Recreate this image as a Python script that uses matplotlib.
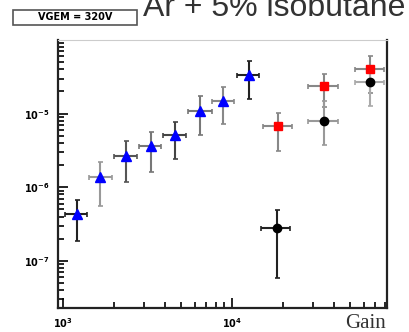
import matplotlib.pyplot as plt
import numpy as np
from matplotlib.patches import Rectangle
from matplotlib.ticker import LogLocator, NullFormatter, FixedLocator

# data
blue_gain = [1210, 1656, 2360, 3318, 4603, 6472, 8850, 12620]
blue_glo = [1028, 1426, 2004, 2818, 3908, 5495, 7621, 10716]
blue_ghi = [1387, 1950, 2741, 3802, 5346, 7621, 10280, 14454]
blue_val = [4.3e-7, 1.36e-6, 2.7e-6, 3.6e-6, 5.2e-6, 1.1e-5, 1.5e-5, 3.37e-5]
blue_hi = [6.7e-7, 2.18e-6, 4.3e-6, 5.7e-6, 7.8e-6, 1.75e-5, 2.3e-5, 5.2e-5]
blue_lo = [1.86e-7, 5.5e-7, 1.17e-6, 1.6e-6, 2.4e-6, 5.2e-6, 7.3e-6, 1.6e-5]

red_gain = [18700, 35000, 65600]
red_glo = [15240, 28200, 53500]
red_ghi = [22650, 42400, 79300]
red_val = [6.9e-6, 2.39e-5, 4.06e-5]
red_hi = [1.03e-5, 3.47e-5, 6.1e-5]
red_lo = [3.16e-6, 1.24e-5, 1.92e-5]

black_gain = [18450, 35000, 65600]
black_glo = [14860, 28200, 53500]
black_ghi = [22030, 42400, 79300]
black_val = [2.8e-7, 8.0e-6, 2.7e-5]
black_hi = [4.9e-7, 1.5e-5, 4.3e-5]
black_lo = [5.9e-8, 3.7e-6, 1.28e-5]

blue_ecol = ['#222222', '#999999', '#555555', '#777777', '#444444', '#777777', '#888888', '#222222']
red_ecol = ['#888888', '#888888', '#888888']
black_ecol = ['#222222', '#999999', '#aaaaaa']

fig = plt.figure(figsize=(4.1, 3.32), dpi=100)
ax = fig.add_axes([58/410, 1-308/332, 329/410, 268/332])
ax.set_xscale('log')
ax.set_yscale('log')
ax.set_xlim(933, 82600)
ax.set_ylim(2.3e-8, 1.0e-4)


def draw(g, glo, ghi, v, lo, hi, ecol, marker, color, ms):
    for i in range(len(g)):
        ax.errorbar([g[i]], [v[i]],
                    xerr=[[g[i]-glo[i]], [ghi[i]-g[i]]],
                    yerr=[[v[i]-lo[i]], [hi[i]-v[i]]],
                    fmt='none', ecolor=ecol[i], elinewidth=1.5, capsize=1.8, capthick=1.2)
    ax.plot(g, v, linestyle='none', marker=marker, color=color, ms=ms, zorder=5)


draw(blue_gain, blue_glo, blue_ghi, blue_val, blue_lo, blue_hi, blue_ecol, '^', '#0000ff', 7)
draw(red_gain, red_glo, red_ghi, red_val, red_lo, red_hi, red_ecol, 's', '#ff0000', 6)
draw(black_gain, black_glo, black_ghi, black_val, black_lo, black_hi, black_ecol, 'o', 'black', 6)

ax.xaxis.set_major_locator(FixedLocator([1e3, 1e4]))
ax.xaxis.set_minor_locator(LogLocator(base=10, subs=np.arange(2, 10)))
ax.xaxis.set_minor_formatter(NullFormatter())
ax.set_xticklabels([r'$\mathbf{10^{3}}$', r'$\mathbf{10^{4}}$'])
ax.yaxis.set_major_locator(FixedLocator([1e-7, 1e-6, 1e-5]))
ax.yaxis.set_minor_locator(LogLocator(base=10, subs=np.arange(2, 10)))
ax.yaxis.set_minor_formatter(NullFormatter())
ax.set_yticklabels([r'$\mathbf{10^{-7}}$', r'$\mathbf{10^{-6}}$', r'$\mathbf{10^{-5}}$'])

ax.tick_params(which='both', direction='in', top=False, right=False, width=1.2, labelsize=7)
ax.tick_params(which='major', length=7, pad=6)
ax.tick_params(which='minor', length=4)
for s in ['left', 'bottom', 'right']:
    ax.spines[s].set_linewidth(1.6)
    ax.spines[s].set_color('#222222')
ax.spines['top'].set_color('#cccccc')

fig.text(386/410, 1-328/332, 'Gain', ha='right', va='baseline',
         family='Liberation Serif', fontsize=15, color='#333333')
fig.text(143/410, 1-16/332, 'Ar + 5% isobutane', ha='left', va='baseline',
         family='Liberation Sans', fontsize=23, color='#333333')

fig.patches.append(Rectangle((13/410, 1-25/332), 124/410, 15/332, transform=fig.transFigure,
                             facecolor='white', edgecolor='#555555', linewidth=1.2))
fig.text(75/410, 1-17.5/332, 'VGEM = 320V', ha='center', va='center',
         fontsize=7, fontweight='bold', color='black')

plt.savefig('out.png', dpi=100)
